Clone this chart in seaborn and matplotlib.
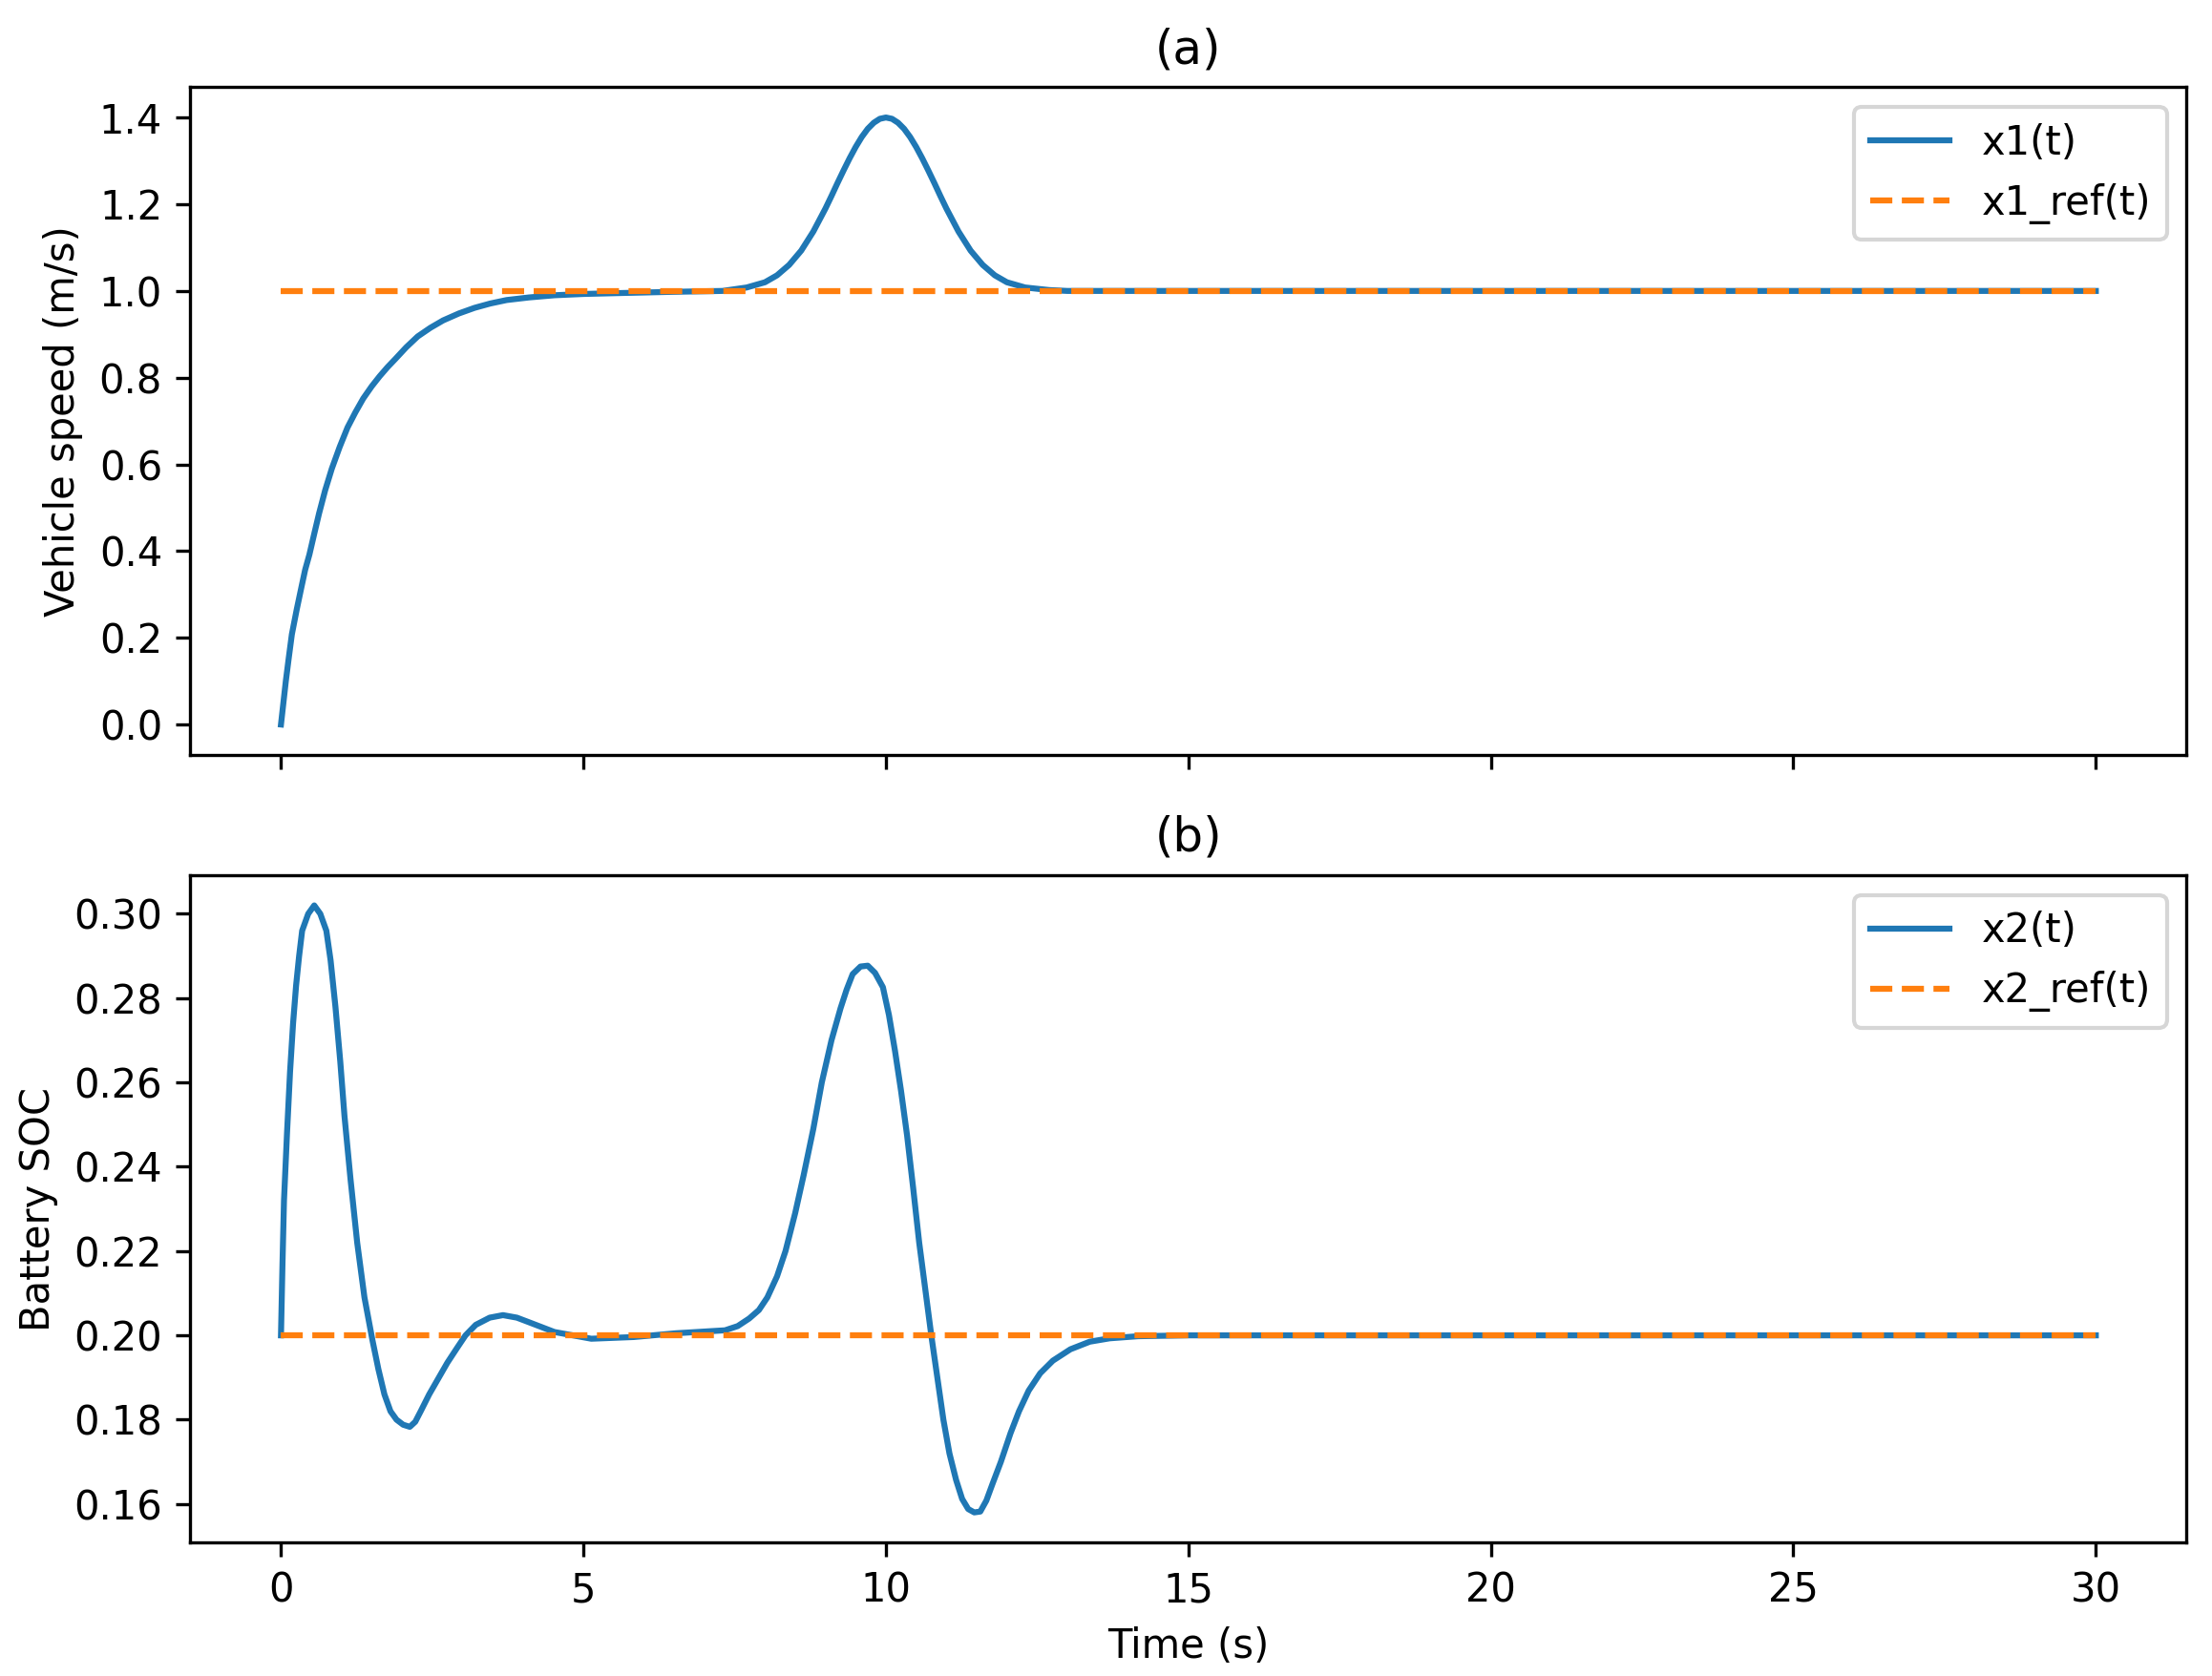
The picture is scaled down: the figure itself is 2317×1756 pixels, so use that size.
import matplotlib
matplotlib.use("Agg")
import matplotlib.pyplot as plt
import seaborn as sns

# (a) vehicle speed
t1 = [0.0, 0.04, 0.08, 0.13, 0.18, 0.26, 0.34, 0.4, 0.47, 0.55,
      0.63, 0.73, 0.84, 0.97, 1.1, 1.23, 1.36, 1.5, 1.63, 1.76,
      1.89, 2.07, 2.26, 2.47, 2.68, 2.94, 3.2, 3.46, 3.73, 4.1,
      4.52, 5.0, 5.57, 6.5, 7.3, 7.7, 8.0, 8.2, 8.4, 8.6,
      8.8, 9.0, 9.1, 9.2, 9.3, 9.4, 9.5, 9.6, 9.7, 9.8,
      9.9, 10.0, 10.1, 10.2, 10.3, 10.4, 10.5, 10.6, 10.7, 10.8,
      10.9, 11.0, 11.2, 11.4, 11.6, 11.8, 12.0, 12.3, 12.7, 13.0,
      14.0, 20.0, 30.0]
x1 = [0.0, 0.05, 0.10, 0.155, 0.208, 0.265, 0.318, 0.357, 0.392, 0.44,
      0.487, 0.54, 0.59, 0.64, 0.685, 0.72, 0.752, 0.78, 0.803, 0.824,
      0.843, 0.87, 0.895, 0.915, 0.932, 0.948, 0.961, 0.971, 0.979, 0.985,
      0.990, 0.993, 0.995, 0.998, 1.0, 1.008, 1.020, 1.036, 1.060, 1.093,
      1.137, 1.190, 1.219, 1.249, 1.278, 1.306, 1.332, 1.355, 1.374, 1.388,
      1.397, 1.400, 1.397, 1.388, 1.374, 1.355, 1.332, 1.306, 1.278, 1.249,
      1.219, 1.190, 1.137, 1.093, 1.060, 1.036, 1.020, 1.008, 1.002, 1.0,
      1.0, 1.0, 1.0]
t1_ref = [0.0, 30.0]
x1_ref = [1.0, 1.0]

# (b) battery SOC
t2 = [0.0, 0.025, 0.05, 0.1, 0.15, 0.2, 0.25, 0.3, 0.35, 0.45, 0.55, 0.65,
      0.75, 0.82, 0.9, 0.98, 1.05, 1.15, 1.26, 1.38, 1.51, 1.61, 1.71, 1.81,
      1.91, 2.02, 2.13, 2.22, 2.31, 2.45, 2.61, 2.75, 2.91, 3.05, 3.22, 3.45,
      3.67, 3.9, 4.12, 4.52, 5.13, 5.83, 6.53, 7.34, 7.55, 7.74, 7.9, 8.04,
      8.2, 8.34, 8.5, 8.64, 8.8, 8.94, 9.1, 9.25, 9.35, 9.45, 9.58, 9.7, 9.82,
      9.95, 10.05, 10.15, 10.25, 10.35, 10.45, 10.55, 10.65, 10.75, 10.85,
      10.95, 11.05, 11.16, 11.26, 11.36, 11.46, 11.56, 11.66, 11.76, 11.9,
      12.06, 12.2, 12.36, 12.55, 12.76, 13.05, 13.37, 13.7, 14.17, 15.0, 20.0,
      30.0]
x2 = [0.20, 0.217, 0.232, 0.248, 0.2625, 0.274, 0.283, 0.290, 0.296, 0.300,
      0.302, 0.300, 0.296, 0.289, 0.278, 0.265, 0.252, 0.237, 0.222, 0.209,
      0.199, 0.192, 0.186, 0.182, 0.180, 0.1788, 0.1783, 0.1795, 0.182, 0.186,
      0.190, 0.1935, 0.197, 0.200, 0.2025, 0.2042, 0.2048, 0.2042, 0.203,
      0.2008, 0.1992, 0.1996, 0.2005, 0.2012, 0.2022, 0.204, 0.206, 0.209,
      0.214, 0.220, 0.229, 0.238, 0.249, 0.260, 0.270, 0.2776, 0.282, 0.2857,
      0.2875, 0.2877, 0.2860, 0.2826, 0.276, 0.2675, 0.258, 0.2474, 0.235,
      0.222, 0.211, 0.20, 0.190, 0.180, 0.172, 0.1657, 0.1612, 0.1588, 0.1580,
      0.1582, 0.1608, 0.1647, 0.170, 0.1768, 0.182, 0.1869, 0.191, 0.194,
      0.1967, 0.1985, 0.1993, 0.1998, 0.20, 0.20, 0.20]
t2_ref = [0.0, 30.0]
x2_ref = [0.20, 0.20]

blue = '#1f77b4'
orange = '#ff7f0e'

fig, (ax1, ax2) = plt.subplots(2, 1, sharex=True, figsize=(2317 / 300, 1756 / 300), dpi=300)
fig.subplots_adjust(left=0.086, right=0.9885, top=0.948, bottom=0.0795, hspace=0.18)

sns.lineplot(x=t1, y=x1, ax=ax1, color=blue, label='x1(t)', estimator=None, sort=False)
sns.lineplot(x=t1_ref, y=x1_ref, ax=ax1, color=orange, linestyle='--', label='x1_ref(t)',
             estimator=None, sort=False)
ax1.set_title('(a)')
ax1.set_ylabel('Vehicle speed (m/s)')
ax1.legend(loc='upper right')

sns.lineplot(x=t2, y=x2, ax=ax2, color=blue, label='x2(t)', estimator=None, sort=False)
sns.lineplot(x=t2_ref, y=x2_ref, ax=ax2, color=orange, linestyle='--', label='x2_ref(t)',
             estimator=None, sort=False)
ax2.set_title('(b)')
ax2.set_ylabel('Battery SOC')
ax2.set_xlabel('Time (s)')
ax2.legend(loc='upper right')

fig.savefig('out.png', dpi=300)
